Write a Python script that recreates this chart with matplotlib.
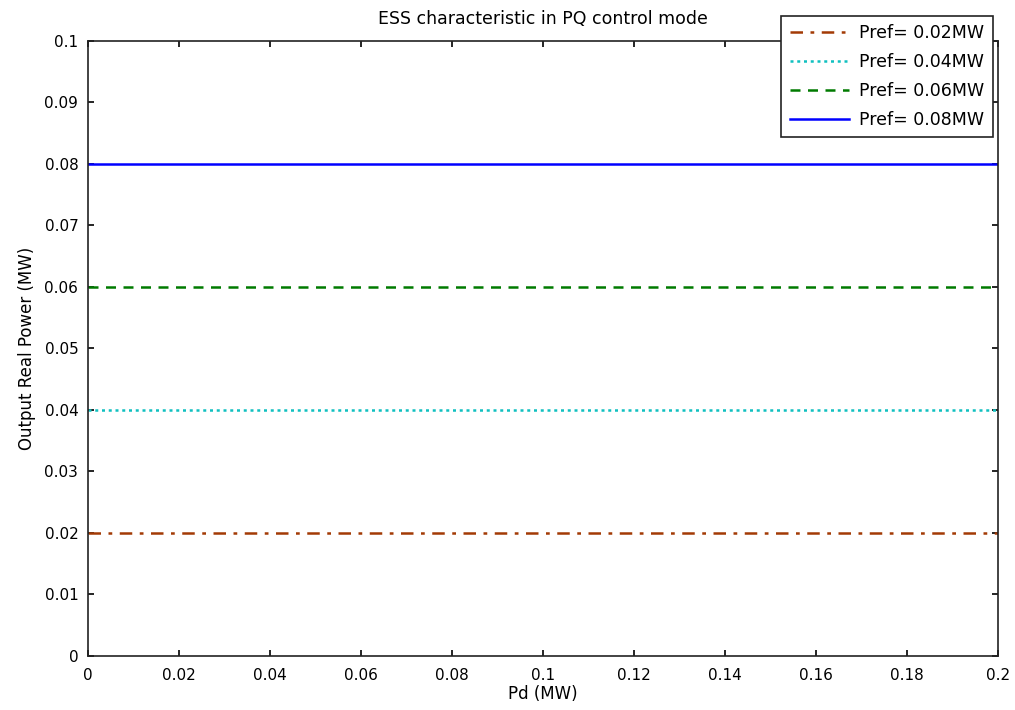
import numpy as np
import matplotlib
matplotlib.use("Agg")
import matplotlib.pyplot as plt

# Pd sweep and ESS reference powers (MW)
pd_range = [0.0, 0.2]
pref_values = [0.02, 0.04, 0.06, 0.08]
labels = ["Pref= 0.02MW", "Pref= 0.04MW", "Pref= 0.06MW", "Pref= 0.08MW"]
colors = ["#a33a05", "#10c0c0", "#007a00", "#0000ff"]
styles = [(0, (5, 3, 1.5, 3)), (0, (1.2, 1.5)), (0, (4, 3)), "-"]

plt.rcParams["font.family"] = ["DejaVu Sans"]
plt.rcParams["font.size"] = 11

fig = plt.figure(figsize=(10.15, 7.1), dpi=100)
ax = fig.add_axes([0.0867, 0.0761, 0.8966, 0.8662])

for p, lab, c, ls in zip(pref_values, labels, colors, styles):
    ax.plot(pd_range, [p, p], color=c, linestyle=ls, linewidth=1.8, label=lab)

ax.set_xlim(0, 0.2)
ax.set_ylim(0, 0.1)
ax.set_xticks(np.arange(0, 0.2001, 0.02))
ax.set_xticklabels(["0", "0.02", "0.04", "0.06", "0.08", "0.1", "0.12",
                    "0.14", "0.16", "0.18", "0.2"])
ax.set_yticks(np.arange(0, 0.1001, 0.01))
ax.set_yticklabels(["0", "0.01", "0.02", "0.03", "0.04", "0.05", "0.06",
                    "0.07", "0.08", "0.09", "0.1"])
ax.tick_params(direction="in", top=True, right=True, length=4, width=1.2,
               labelsize=11)
ax.tick_params(axis="x", pad=9)
ax.tick_params(axis="y", pad=7)
for s in ax.spines.values():
    s.set_linewidth(1.2)
    s.set_color("#222222")

ax.set_xlabel("Pd (MW)", fontsize=12, labelpad=1)
ax.set_ylabel("Output Real Power (MW)", fontsize=12, labelpad=6)
ax.set_title("ESS characteristic in PQ control mode", fontsize=12.5, pad=12)

leg = ax.legend(loc="upper left", bbox_to_anchor=(0.7695, 0.978),
                bbox_transform=fig.transFigure, borderaxespad=0,
                fancybox=False, edgecolor="#222222", framealpha=1,
                fontsize=12.5, handlelength=3.4, handletextpad=0.6,
                borderpad=0.5, labelspacing=0.62)
leg.get_frame().set_linewidth(1.2)

fig.savefig("out.png", dpi=100)
